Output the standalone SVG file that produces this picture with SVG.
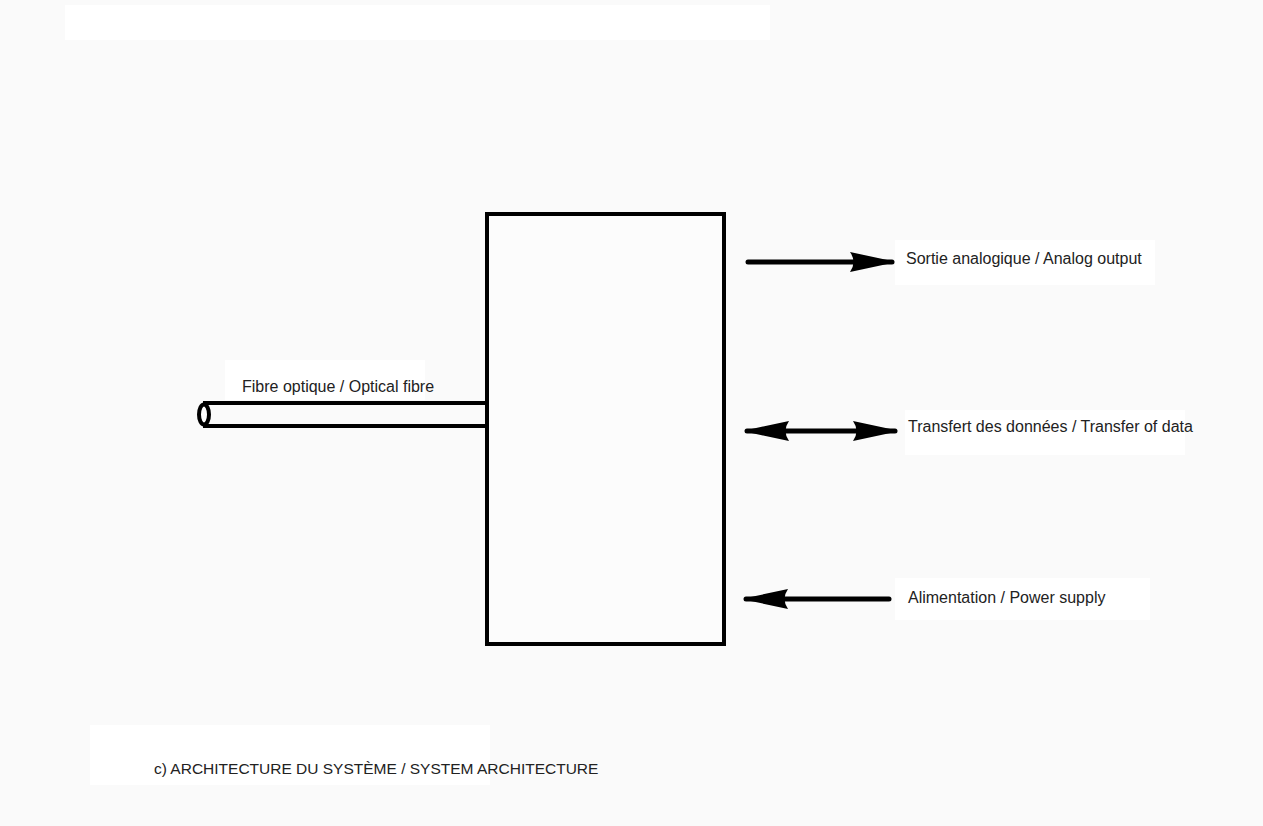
<svg xmlns="http://www.w3.org/2000/svg" width="1263" height="826" viewBox="0 0 1263 826">
<style>
.lbl{font-family:"Liberation Sans",Arial,sans-serif;font-size:16px;fill:#222}
.ttl{font-family:"Liberation Sans",Arial,sans-serif;font-size:15.5px;fill:#222}
.conn{stroke:#000;stroke-width:5;fill:none;stroke-linecap:round}
.patch{fill:#fff}
</style>
<defs>
<marker id="head" markerUnits="userSpaceOnUse" markerWidth="44" markerHeight="20" refX="42" refY="10" orient="auto-start-reverse" viewBox="0 0 44 20">
<path d="M0,0 Q7,10 0,20 L42,11 L42,9 Z" fill="#000"/>
</marker>
</defs>
<rect width="1263" height="826" fill="#fafafa"/>
<rect class="patch" x="65" y="5" width="705" height="35"/>
<rect class="patch" x="90" y="725" width="400" height="60"/>
<rect class="patch" x="895" y="240" width="260" height="45"/>
<rect class="patch" x="905" y="410" width="280" height="45"/>
<rect class="patch" x="895" y="578" width="255" height="42"/>
<rect class="patch" x="225" y="360" width="200" height="40"/>

<g id="box">
<rect x="487" y="214" width="237" height="430" fill="#fcfcfc" stroke="#000" stroke-width="4"/>
</g>

<g id="fibre">
<path d="M203,403 L487,403 M203,426 L487,426" stroke="#000" stroke-width="4" fill="none"/>
<ellipse cx="204" cy="414.5" rx="5" ry="10" fill="#fff" stroke="#000" stroke-width="4"/>
<text class="lbl" x="242" y="392">Fibre optique / Optical fibre</text>
</g>

<g id="connectors">
<path class="conn" d="M748,262 L892,262" marker-end="url(#head)"/>
<path class="conn" d="M747,431 L895,431" marker-start="url(#head)" marker-end="url(#head)"/>
<path class="conn" d="M889,599 L746,599" marker-end="url(#head)"/>
</g>

<g id="analog-output">
<text class="lbl" x="906" y="264">Sortie analogique / Analog output</text>
</g>
<g id="data-transfer">
<text class="lbl" x="908" y="432">Transfert des données / Transfer of data</text>
</g>
<g id="power-supply">
<text class="lbl" x="908" y="603">Alimentation / Power supply</text>
</g>
<g id="caption">
<text class="ttl" x="154" y="774">c) ARCHITECTURE DU SYSTÈME / SYSTEM ARCHITECTURE</text>
</g>
</svg>
